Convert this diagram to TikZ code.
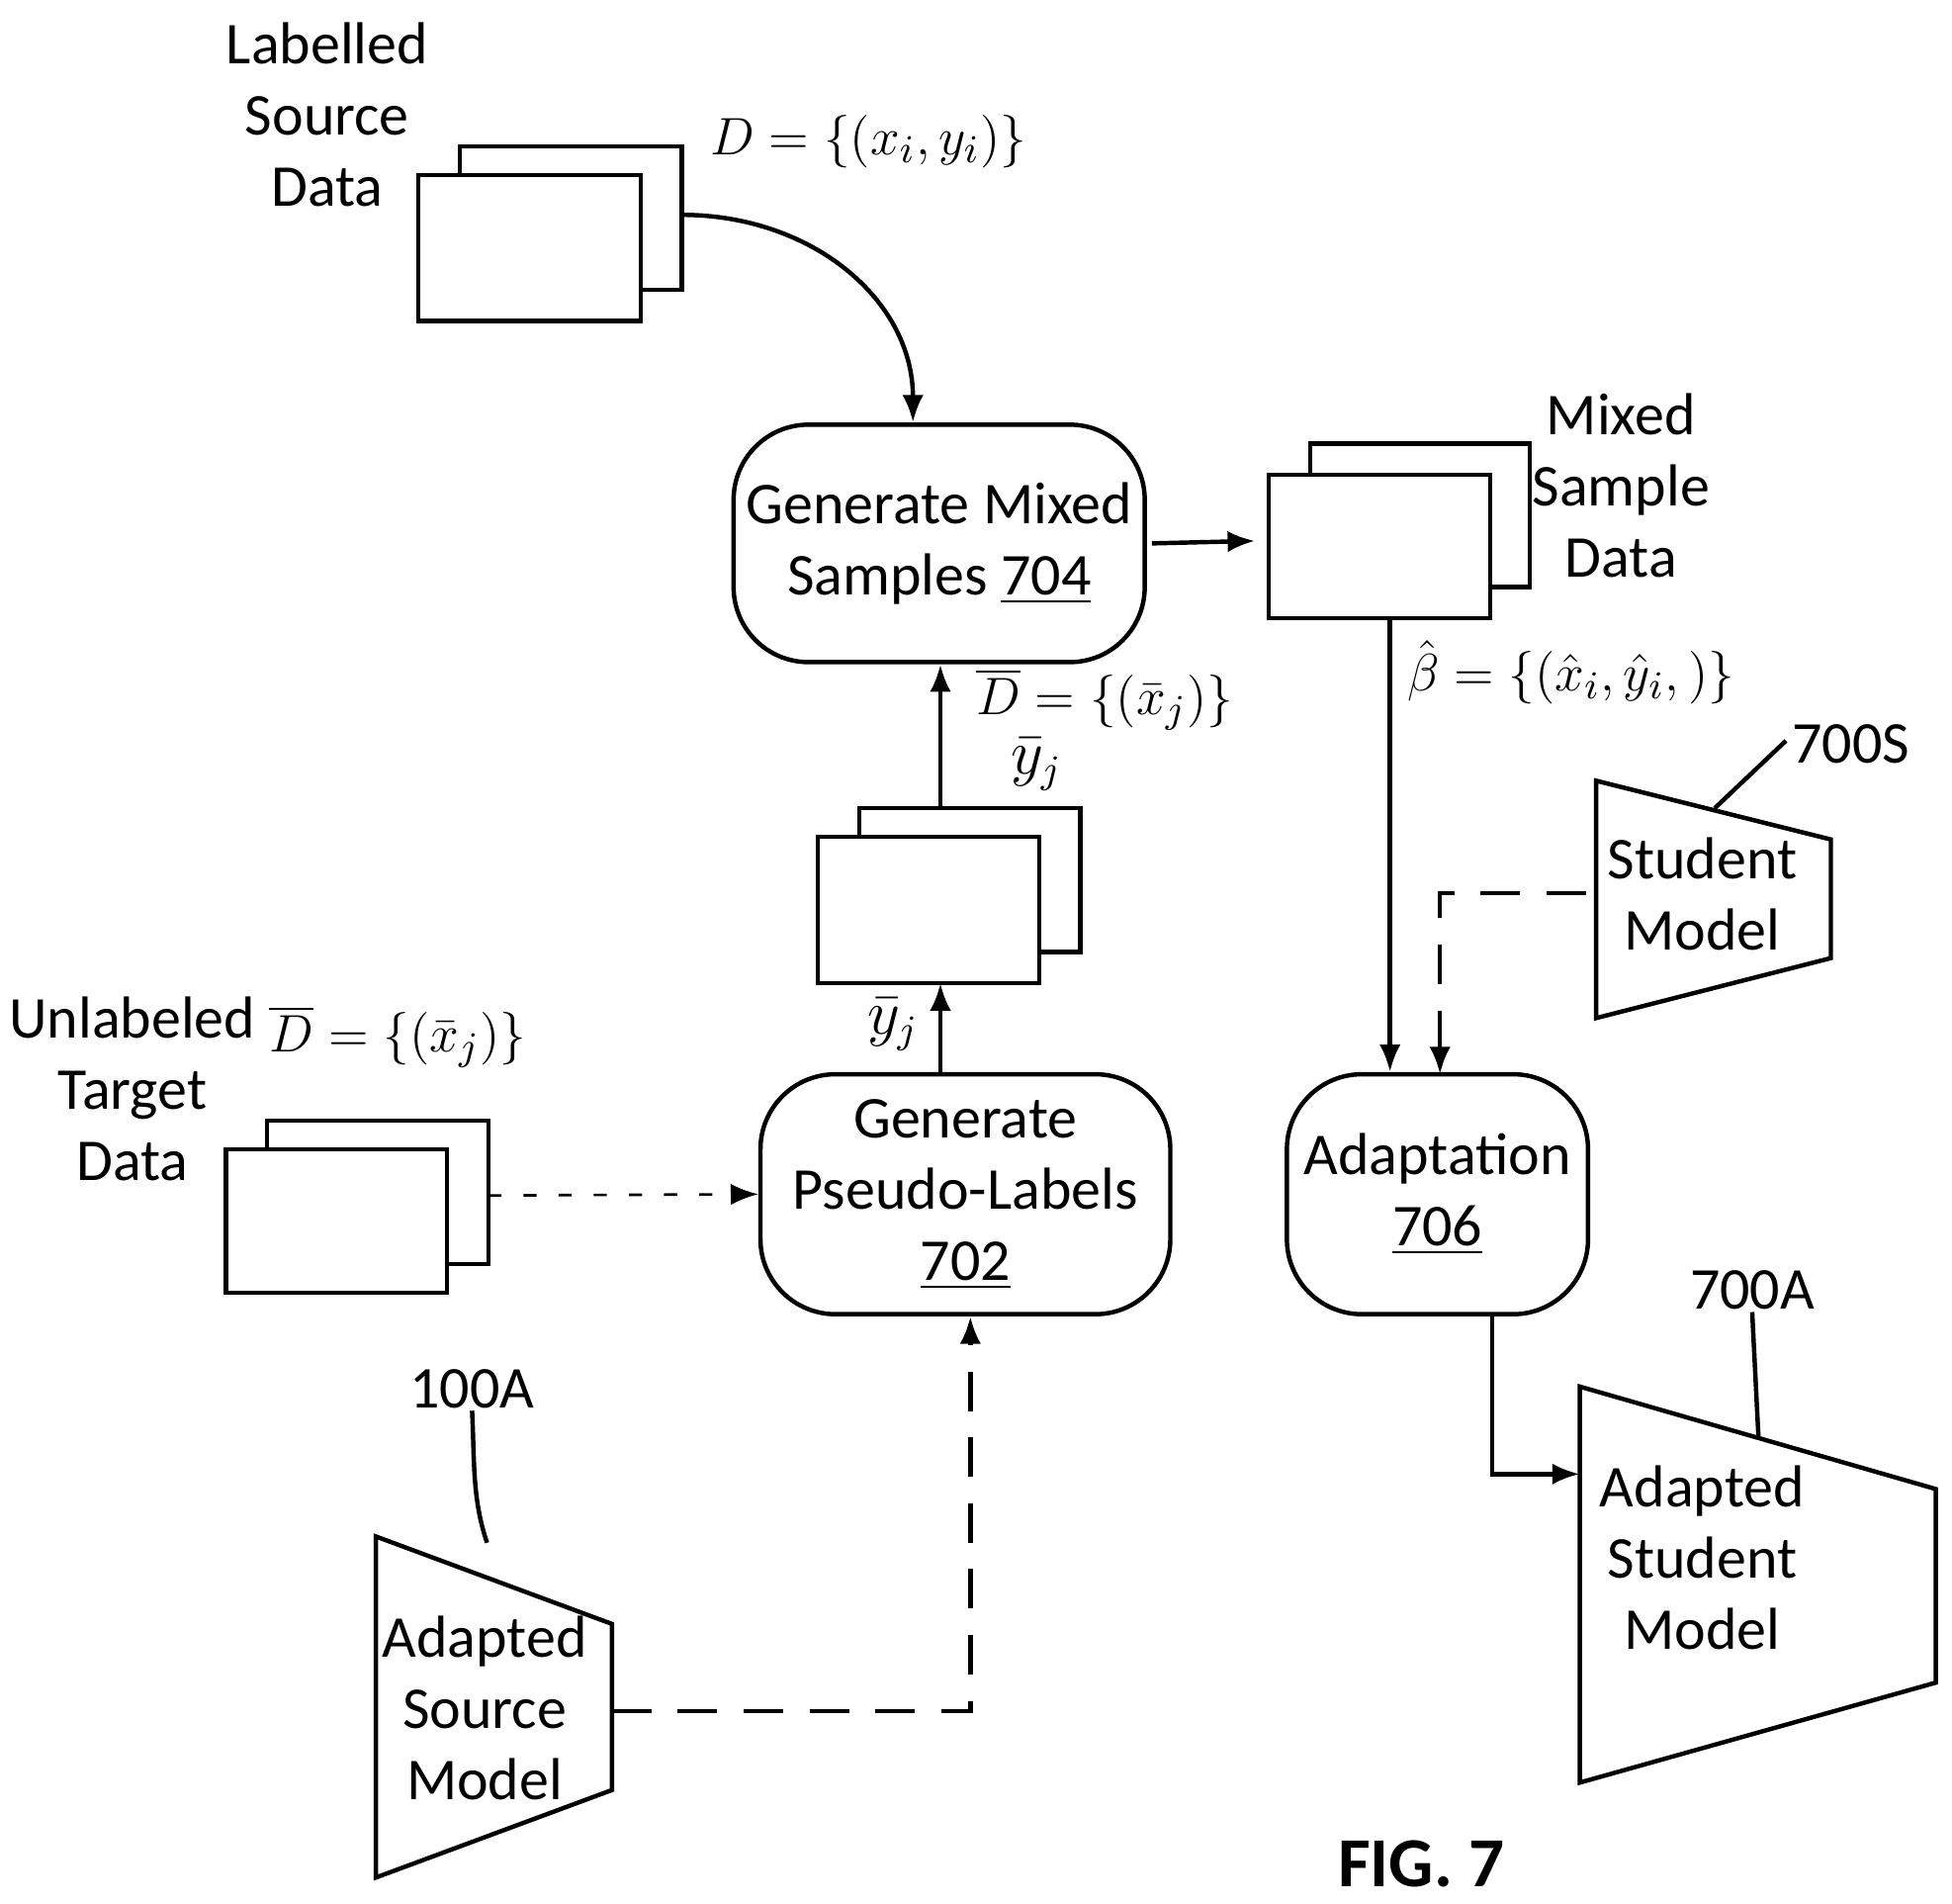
\documentclass[tikz,border=0pt]{standalone}
\usepackage{fontspec}
\setmainfont{Carlito}
\usetikzlibrary{arrows.meta,positioning}
\begin{document}
\begin{tikzpicture}[x=0.01cm,y=-0.01cm,line width=1pt,
  every node/.style={font=\fontsize{13.5}{16.2}\selectfont},
  txt/.style={align=center,inner sep=0pt},
  mth/.style={anchor=west,inner sep=0pt,font=\fontsize{12.5}{15}\selectfont},
  proc/.style={draw,rounded corners=0.6cm,align=center,inner sep=0pt},
  arr/.style={-{Latex[length=2.2mm,width=1.7mm]}},
  dsh/.style={dash pattern=on 9pt off 6pt}]
\useasboundingbox (0,0) rectangle (1563,1524);
% document stacks
\draw (368,117) rectangle (546,232);
\draw[fill=white] (335,140) rectangle (513,257);
\draw (1049,355) rectangle (1225,470);
\draw[fill=white] (1016,380) rectangle (1193,495);
\draw (688,647) rectangle (865,762);
\draw[fill=white] (655,670) rectangle (832,787);
\draw (214,897) rectangle (391,1012);
\draw[fill=white] (181,920) rectangle (358,1035);
\coordinate (src) at (546,172);
\coordinate (mix) at (1113,495);
\coordinate (pl) at (753,787);
\coordinate (plt) at (753,647);
\coordinate (tgt) at (391,957);
% labels
\node[txt] (lsd) at (262,92) {Labelled\\Source\\Data};
\node[txt] (msd) at (1298,389) {Mixed\\Sample\\Data};
\node[txt] (utd) at (106,872) {Unlabeled\\Target\\Data};
\node[mth] (dl) at (567,113) {$D=\{(x_i,y_i)\}$};
\node[mth] (bl) at (1125,538) {$\hat\beta = \{(\hat x_i,\hat y_i,)\}$};
\node[mth] (dbt) at (214,830) {$\overline{D}=\bigl\{\bigl(\bar x_j\bigr)\bigr\}$};
\node[mth] (dbm) at (780,560) {$\overline{D}=\bigl\{\bigl(\bar x_j\bigr)\bigr\}$};
\node[txt] (y1) at (830,612) {$\bar y_j$};
\node[txt] (y2) at (715,820) {$\bar y_j$};
% steps
\node[proc,minimum width=3.29cm,minimum height=1.9cm] (gms) at (752,435) {Generate Mixed\\Samples \underline{704}};
\node[proc,minimum width=3.28cm,minimum height=1.92cm] (gpl) at (773,956) {Generate\\Pseudo-Labels\\\underline{702}};
\node[proc,minimum width=2.41cm,minimum height=1.92cm] (ada) at (1151,956) {Adaptation\\\underline{706}};
% models
\draw (1278,625) -- (1466,672) -- (1466,767) -- (1278,815) -- cycle;
\node[txt] (stu) at (1363,716) {Student\\Model};
\draw (1265,1110) -- (1550,1192) -- (1550,1347) -- (1265,1427) -- cycle;
\node[txt] (ast) at (1363,1247) {Adapted\\Student\\Model};
\draw (301,1230) -- (490,1300) -- (490,1433) -- (301,1503) -- cycle;
\node[txt] (asm) at (388,1367) {Adapted\\Source\\Model};
\node[txt] (n700s) at (1482,596) {700S};
\node[txt] (n700a) at (1403,1033) {700A};
\node[txt] (n100a) at (378,1112) {100A};
\draw (1373,647) -- (1430,593);
\draw (1408,1150) -- (n700a.south);
\draw (390,1235) .. controls (378,1200) and (380,1170) .. (n100a.south);
\coordinate (stl) at (1270,715);
\coordinate (ast in) at (1265,1180);
\coordinate (asm out) at (490,1370);
% connectors
\draw[arr] (src) .. controls (650,172) and (731,240) .. (gms.north -| 731,0);
\draw[arr] (gms.east) ++(4,0) -- (1005,433);
\draw[arr] (mix) -- (mix |- ada.north);
\draw[arr,dsh] (stl) -- (1153,715) -- (1153,860);
\draw[arr] (ada.south -| 1195,0) -- (1195,1180) -- (ast in);
\draw[arr] (gpl.north -| pl) -- (pl);
\draw[arr] (plt) -- (plt |- gms.south);
\draw[arr,dsh] (asm out) -- (777,1370) -- (gpl.south -| 777,0);
\draw[arr,line width=0.6pt,dash pattern=on 3pt off 5pt] (tgt) -- (gpl.west);
\node[font=\fontsize{16}{18}\selectfont\bfseries] (fig) at (1138,1492) {FIG. 7};
\end{tikzpicture}
\end{document}
